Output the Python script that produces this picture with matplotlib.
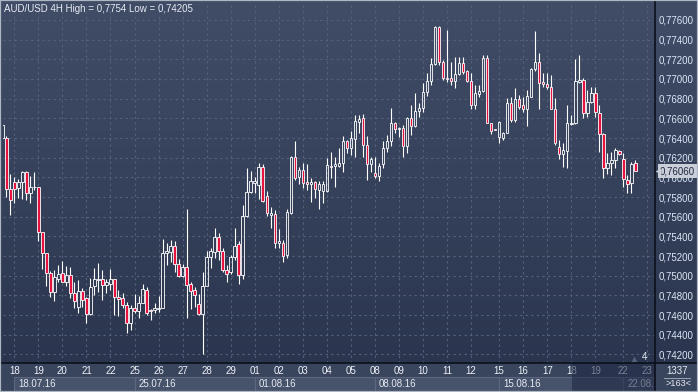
import matplotlib
matplotlib.use("Agg")
import matplotlib.pyplot as plt
import numpy as np
from matplotlib.patches import Rectangle
from matplotlib.lines import Line2D
from matplotlib.colors import LinearSegmentedColormap
from matplotlib.transforms import blended_transform_factory, Bbox, TransformedBbox

plt.rcParams["font.family"] = ["Liberation Sans", "DejaVu Sans"]

# AUD/USD 4H candles, 15.07.16 12:00 .. 22.08.16
opens = [
    0.7640, 0.7640, 0.7588, 0.7595, 0.7589, 0.7595, 0.7605, 0.7584, 0.7590, 0.7590,
    0.7544, 0.7523, 0.7503, 0.7483, 0.7497, 0.7503, 0.7494, 0.7501, 0.7482, 0.7468,
    0.7484, 0.7477, 0.7461, 0.7489, 0.7496, 0.7497, 0.7491, 0.7492, 0.7497, 0.7478,
    0.7477, 0.7470, 0.7452, 0.7467, 0.7464, 0.7472, 0.7485, 0.7465, 0.7465, 0.7466,
    0.7467, 0.7523, 0.7524, 0.7530, 0.7512, 0.7500, 0.7509, 0.7492, 0.7485, 0.7471,
    0.7461, 0.7489, 0.7519, 0.7524, 0.7539, 0.7525, 0.7506, 0.7504, 0.7519, 0.7532,
    0.7501, 0.7561, 0.7585, 0.7594, 0.7592, 0.7611, 0.7581, 0.7562, 0.7563, 0.7533,
    0.7533, 0.7521, 0.7564, 0.7621, 0.7600, 0.7607, 0.7595, 0.7593, 0.7595, 0.7587,
    0.7586, 0.7586, 0.7612, 0.7612, 0.7612, 0.7615, 0.7637, 0.7630, 0.7639, 0.7656,
    0.7660, 0.7633, 0.7614, 0.7604, 0.7601, 0.7614, 0.7630, 0.7637, 0.7655, 0.7649,
    0.7650, 0.7632, 0.7660, 0.7652, 0.7667, 0.7671, 0.7687, 0.7698, 0.7715, 0.7753,
    0.7717, 0.7701, 0.7701, 0.7698, 0.7705, 0.7716, 0.7708, 0.7698, 0.7674, 0.7685,
    0.7688, 0.7721, 0.7655, 0.7649, 0.7641, 0.7640, 0.7645, 0.7676, 0.7658, 0.7680,
    0.7674, 0.7669, 0.7682, 0.7710, 0.7717, 0.7697, 0.7695, 0.7692, 0.7670, 0.7631,
    0.7624, 0.7627, 0.7654, 0.7655, 0.7697, 0.7699, 0.7665, 0.7677, 0.7686, 0.7665,
    0.7644, 0.7609, 0.7615, 0.7618, 0.7627, 0.7619, 0.7597, 0.7594, 0.7615,
]
closes = [
    0.7653, 0.7588, 0.7577, 0.7588, 0.7595, 0.7605, 0.7584, 0.7590, 0.7590, 0.7544,
    0.7523, 0.7503, 0.7483, 0.7499, 0.7502, 0.7494, 0.7501, 0.7482, 0.7474, 0.7484,
    0.7475, 0.7461, 0.7488, 0.7497, 0.7497, 0.7491, 0.7494, 0.7497, 0.7478, 0.7476,
    0.7470, 0.7452, 0.7467, 0.7464, 0.7472, 0.7486, 0.7462, 0.7464, 0.7467, 0.7467,
    0.7523, 0.7525, 0.7530, 0.7512, 0.7500, 0.7509, 0.7491, 0.7484, 0.7480, 0.7461,
    0.7490, 0.7519, 0.7525, 0.7539, 0.7525, 0.7506, 0.7502, 0.7519, 0.7530, 0.7501,
    0.7561, 0.7585, 0.7596, 0.7596, 0.7611, 0.7576, 0.7564, 0.7564, 0.7533, 0.7535,
    0.7520, 0.7565, 0.7621, 0.7599, 0.7607, 0.7594, 0.7593, 0.7595, 0.7588, 0.7593,
    0.7593, 0.7613, 0.7611, 0.7614, 0.7615, 0.7637, 0.7630, 0.7640, 0.7657, 0.7659,
    0.7633, 0.7614, 0.7619, 0.7601, 0.7612, 0.7630, 0.7637, 0.7655, 0.7649, 0.7650,
    0.7632, 0.7660, 0.7652, 0.7667, 0.7671, 0.7687, 0.7698, 0.7715, 0.7753, 0.7717,
    0.7701, 0.7700, 0.7698, 0.7705, 0.7716, 0.7707, 0.7698, 0.7674, 0.7686, 0.7688,
    0.7721, 0.7655, 0.7647, 0.7648, 0.7656, 0.7645, 0.7676, 0.7658, 0.7680, 0.7672,
    0.7669, 0.7683, 0.7710, 0.7717, 0.7696, 0.7695, 0.7692, 0.7670, 0.7635, 0.7624,
    0.7628, 0.7655, 0.7655, 0.7698, 0.7699, 0.7665, 0.7677, 0.7686, 0.7666, 0.7644,
    0.7610, 0.7615, 0.7618, 0.7628, 0.7624, 0.7598, 0.7593, 0.7614, 0.7606,
]
highs = [
    0.7654, 0.7642, 0.7603, 0.7600, 0.7598, 0.7606, 0.7606, 0.7601, 0.7605, 0.7590,
    0.7544, 0.7523, 0.7505, 0.7506, 0.7511, 0.7515, 0.7510, 0.7509, 0.7494, 0.7496,
    0.7487, 0.7478, 0.7498, 0.7508, 0.7513, 0.7506, 0.7497, 0.7507, 0.7497, 0.7485,
    0.7482, 0.7473, 0.7470, 0.7481, 0.7479, 0.7492, 0.7488, 0.7466, 0.7472, 0.7479,
    0.7537, 0.7533, 0.7536, 0.7535, 0.7517, 0.7512, 0.7568, 0.7494, 0.7488, 0.7481,
    0.7504, 0.7525, 0.7528, 0.7548, 0.7543, 0.7528, 0.7511, 0.7521, 0.7548, 0.7535,
    0.7572, 0.7609, 0.7606, 0.7600, 0.7615, 0.7614, 0.7586, 0.7570, 0.7567, 0.7547,
    0.7536, 0.7568, 0.7622, 0.7637, 0.7611, 0.7615, 0.7614, 0.7599, 0.7596, 0.7596,
    0.7596, 0.7620, 0.7626, 0.7621, 0.7630, 0.7642, 0.7638, 0.7647, 0.7663, 0.7663,
    0.7664, 0.7642, 0.7621, 0.7621, 0.7615, 0.7637, 0.7643, 0.7671, 0.7656, 0.7651,
    0.7653, 0.7661, 0.7674, 0.7686, 0.7676, 0.7696, 0.7706, 0.7721, 0.7754, 0.7754,
    0.7719, 0.7750, 0.7717, 0.7722, 0.7722, 0.7722, 0.7709, 0.7706, 0.7694, 0.7694,
    0.7724, 0.7724, 0.7655, 0.7649, 0.7657, 0.7646, 0.7681, 0.7682, 0.7691, 0.7684,
    0.7682, 0.7689, 0.7711, 0.7749, 0.7726, 0.7706, 0.7706, 0.7704, 0.7681, 0.7638,
    0.7635, 0.7674, 0.7663, 0.7720, 0.7724, 0.7701, 0.7689, 0.7692, 0.7692, 0.7674,
    0.7645, 0.7625, 0.7626, 0.7630, 0.7628, 0.7625, 0.7602, 0.7616, 0.7618,
]
lows = [
    0.7638, 0.7580, 0.7562, 0.7574, 0.7579, 0.7578, 0.7577, 0.7574, 0.7587, 0.7535,
    0.7507, 0.7489, 0.7478, 0.7474, 0.7494, 0.7494, 0.7490, 0.7477, 0.7467, 0.7462,
    0.7468, 0.7452, 0.7460, 0.7480, 0.7483, 0.7475, 0.7482, 0.7485, 0.7460, 0.7459,
    0.7467, 0.7442, 0.7445, 0.7462, 0.7457, 0.7472, 0.7460, 0.7455, 0.7462, 0.7463,
    0.7467, 0.7511, 0.7514, 0.7504, 0.7499, 0.7499, 0.7457, 0.7466, 0.7468, 0.7460,
    0.74205, 0.7489, 0.7508, 0.7518, 0.7516, 0.7504, 0.7494, 0.7502, 0.7516, 0.7492,
    0.7497, 0.7560, 0.7584, 0.7584, 0.7578, 0.7575, 0.7561, 0.7548, 0.7528, 0.7528,
    0.7514, 0.7518, 0.7563, 0.7597, 0.7593, 0.7589, 0.7587, 0.7575, 0.7579, 0.7568,
    0.7574, 0.7585, 0.7599, 0.7590, 0.7611, 0.7605, 0.7625, 0.7623, 0.7621, 0.7645,
    0.7621, 0.7597, 0.7605, 0.7599, 0.7596, 0.7610, 0.7626, 0.7632, 0.7645, 0.7641,
    0.7621, 0.7625, 0.7643, 0.7651, 0.7661, 0.7666, 0.7683, 0.7694, 0.7714, 0.7714,
    0.7699, 0.7697, 0.7694, 0.7691, 0.7704, 0.7705, 0.7697, 0.7669, 0.7670, 0.7682,
    0.7687, 0.7655, 0.7644, 0.7648, 0.7635, 0.7638, 0.7645, 0.7656, 0.7656, 0.7669,
    0.7666, 0.7652, 0.7682, 0.7708, 0.7670, 0.7692, 0.7690, 0.7669, 0.7633, 0.7619,
    0.7611, 0.7609, 0.7653, 0.7654, 0.7696, 0.7660, 0.7661, 0.7676, 0.7661, 0.7626,
    0.7599, 0.7603, 0.7602, 0.7609, 0.7623, 0.7590, 0.7584, 0.7584, 0.7606,
]

# day separators (bar index where each day starts) and their labels
day_labels = ["18", "19", "20", "21", "22", "25", "26", "27", "28", "29",
              "01", "02", "03", "04", "05", "08", "09", "10", "11", "12",
              "15", "16", "17", "18", "19", "22", "23"]
day_starts = [3, 9, 15, 21, 27, 33, 39, 45, 51, 57,
              63, 69, 75, 81, 87, 93, 99, 105, 111, 117,
              124, 130, 136, 142, 148, 155, 161]
week_labels = ["18.07.16", "25.07.16", "01.08.16", "08.08.16", "15.08.16", "22.08.16"]
week_starts = [3, 33, 63, 93, 124, 155]
price_ticks = [0.742, 0.744, 0.746, 0.748, 0.750, 0.752, 0.754, 0.756, 0.758,
               0.760, 0.762, 0.764, 0.766, 0.768, 0.770, 0.772, 0.774, 0.776]
title = "AUD/USD 4H High = 0,7754 Low = 0,74205"
bars_total = "1337"
bars_visible = ">163<"
shift_label = "4"

W, H = 698, 392
EDGE = "white"
DOWN_FILL = "#e8123f"
TXT = "#e6ebf3"

fig = plt.figure(figsize=(W / 100, H / 100), dpi=100)

# background gradient for the whole window
bg = fig.add_axes([0, 0, 1, 1])
bg.set_axis_off()
cmap = LinearSegmentedColormap.from_list("bg", ["#29334c", "#414d67"])
bg.imshow(np.linspace(1, 0, 256).reshape(-1, 1), cmap=cmap, aspect="auto",
          extent=[0, 1, 0, 1], transform=bg.transAxes)
bg.set_xlim(0, 1)
bg.set_ylim(0, 1)
bg.add_patch(Rectangle((0, 0), 1, 29 / H, color="#39445d", transform=bg.transAxes))

ax = fig.add_axes([3 / W, 29 / H, 652 / W, 361 / H])
ax.set_facecolor("none")
ax.set_xlim(0.175, 162.9)
ax.set_ylim(0.74112, 0.77783)
for s in ax.spines.values():
    s.set_visible(False)

ax.yaxis.tick_right()
ax.set_yticks(price_ticks)
ax.yaxis.set_major_formatter(plt.FuncFormatter(lambda v, _: f"{v:.5f}".replace(".", ",")))
ax.tick_params(axis="y", length=0, pad=2.5, labelsize=7, labelcolor="#dce6f6")
ax.set_xticks(day_starts)
ax.set_xticklabels(day_labels)
ax.tick_params(axis="x", length=0, pad=2.5, labelsize=7, labelcolor="#eef2f8")
ax.grid(True, color="#56627b", linestyle=(0, (2, 3)), linewidth=0.8)
ax.set_axisbelow(True)

# candles: wicks above and below the body, body outlined in white
for i, (o, c, h, l) in enumerate(zip(opens, closes, highs, lows)):
    top, bot = max(o, c), min(o, c)
    ax.vlines(i, top, max(h, top), color=EDGE, lw=0.8, zorder=3)
    ax.vlines(i, min(l, bot), bot, color=EDGE, lw=0.8, zorder=3)
    fc = DOWN_FILL if c < o else "none"
    ax.add_patch(Rectangle((i - 0.31, bot), 0.62, top - bot, facecolor=fc,
                           edgecolor=EDGE, lw=0.6, zorder=4))

# current price tag
tr = blended_transform_factory(ax.transAxes, ax.transData)
last = closes[-1]
ax.text(1 + 5 / 652, last, f"{last:.5f}".replace(".", ","), transform=tr,
        ha="left", va="center", fontsize=7, color="#1e2840", clip_on=False, zorder=6,
        bbox=dict(boxstyle="square,pad=0.2", fc="#c9ced8", ec="none"))
ax.plot([1 + 2.5 / 652], [last], marker="<", ms=4, color="#c9ced8", mec="none",
        transform=tr, clip_on=False, zorder=6)

fig.text(4 / W, 1 - 9 / H, title, color=TXT, fontsize=7, ha="left", va="center")

# week boxes in the time strip
strip_clip = TransformedBbox(Bbox.from_extents(3 / W, 0, 655 / W, 29 / H), fig.transFigure)
wtr = blended_transform_factory(ax.transData, fig.transFigure)
ends = week_starts[1:] + [week_starts[-1] + 30]
for lab, x0, x1 in zip(week_labels, week_starts, ends):
    r = Rectangle((x0, 1.5 / H), x1 - x0, 13.5 / H, transform=wtr,
                  facecolor="#47526b", edgecolor="#5d6880", lw=0.8)
    fig.add_artist(r)
    r.set_clip_box(strip_clip)
    t = fig.text(x0 + 1.0, 8 / H, lab, transform=wtr, fontsize=7, color=TXT,
                 ha="left", va="center")
    t.set_clip_box(strip_clip)
    t.set_clip_on(True)

# dim overlay at the right end of the time strip
fig.add_artist(Rectangle((572 / W, 0), 83 / W, 29 / H, transform=fig.transFigure,
                         facecolor="#1c2540", alpha=0.55, edgecolor="none", zorder=5))

# separator lines
fig.add_artist(Line2D([655 / W, 655 / W], [0, 1], color="#0b101c", lw=1.2, zorder=6))
fig.add_artist(Line2D([0, 1], [29 / H, 29 / H], color="#0b101c", lw=1.2, zorder=6))

# bottom right counters
fig.text(677 / W, 1 - 370.5 / H, bars_total, color=TXT, fontsize=7, ha="center", va="center")
fig.add_artist(Line2D([664 / W, 690 / W], [1 - 377.5 / H] * 2, color="#9aa4b4", lw=0.7))
fig.text(678 / W, 1 - 383.5 / H, bars_visible, color=TXT, fontsize=6.6, ha="center", va="center")

fig.text(645 / W, 1 - 357 / H, shift_label, color=TXT, fontsize=7, ha="center", va="center")
fig.add_artist(Line2D([634 / W], [1 - 359 / H], marker="^", ms=4, color="#56607a",
                      mec="none", lw=0))

# window frame
fig.add_artist(Rectangle((0, 0), 1, 1, transform=fig.transFigure, fill=False,
                         edgecolor="#aeb6c4", lw=1.6, zorder=10))

fig.savefig("out.png", dpi=100)
